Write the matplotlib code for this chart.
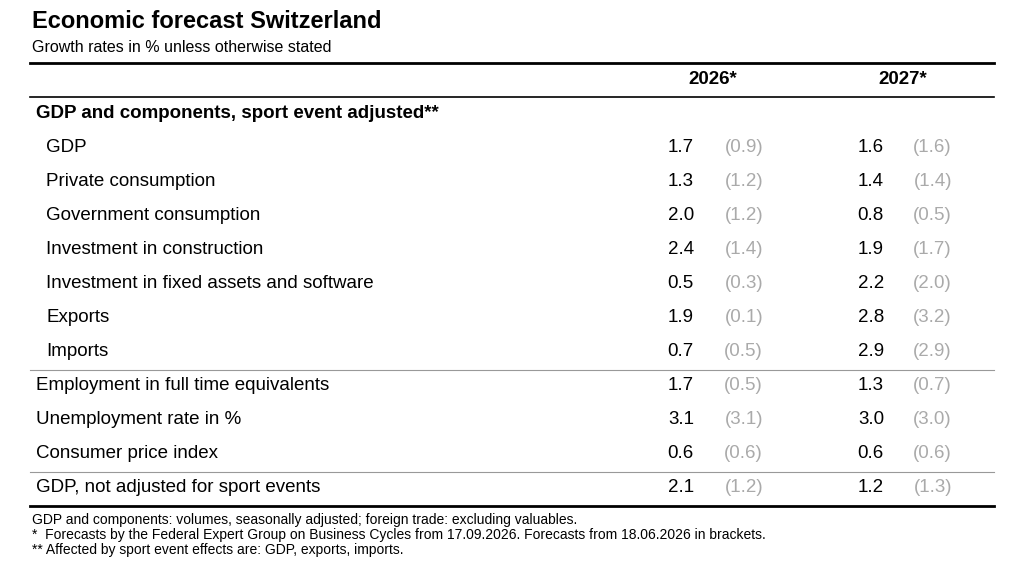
import matplotlib
matplotlib.use("Agg")
import matplotlib.pyplot as plt
from matplotlib.lines import Line2D

plt.rcParams['font.family'] = ['Liberation Sans', 'DejaVu Sans']

title = "Economic forecast Switzerland"
subtitle = "Growth rates in % unless otherwise stated"
years = ["2026*", "2027*"]
section = "GDP and components, sport event adjusted**"
labels = ["GDP", "Private consumption", "Government consumption", "Investment in construction",
          "Investment in fixed assets and software", "Exports", "Imports",
          "Employment in full time equivalents", "Unemployment rate in %", "Consumer price index",
          "GDP, not adjusted for sport events"]
indented = [True]*7 + [False]*4
v2026 = ["1.7", "1.3", "2.0", "2.4", "0.5", "1.9", "0.7", "1.7", "3.1", "0.6", "2.1"]
p2026 = ["(0.9)", "(1.2)", "(1.2)", "(1.4)", "(0.3)", "(0.1)", "(0.5)", "(0.5)", "(3.1)", "(0.6)", "(1.2)"]
v2027 = ["1.6", "1.4", "0.8", "1.9", "2.2", "2.8", "2.9", "1.3", "3.0", "0.6", "1.2"]
p2027 = ["(1.6)", "(1.4)", "(0.5)", "(1.7)", "(2.0)", "(3.2)", "(2.9)", "(0.7)", "(3.0)", "(0.6)", "(1.3)"]
notes = ["GDP and components: volumes, seasonally adjusted; foreign trade: excluding valuables.",
         "*  Forecasts by the Federal Expert Group on Business Cycles from 17.09.2026. Forecasts from 18.06.2026 in brackets.",
         "** Affected by sport event effects are: GDP, exports, imports."]

W, H = 1024, 576
fig = plt.figure(figsize=(W/100, H/100), dpi=100)

def T(x, y, s, **kw):
    kw.setdefault('va', 'center')
    fig.text(x/W, 1-y/H, s, **kw)

def L(x0, x1, y, lw, c='black'):
    fig.add_artist(Line2D([x0/W, x1/W], [1-y/H, 1-y/H], lw=lw, color=c))

T(32, 22, title, fontsize=17, fontweight='bold')
T(32, 47, subtitle, fontsize=11.5)
L(30, 994, 63, 2)
T(737, 80, years[0], fontsize=13.5, fontweight='bold', ha='right')
T(927, 80, years[1], fontsize=13.5, fontweight='bold', ha='right')
L(30, 994, 97, 1.2)
T(36, 114, section, fontsize=13.5, fontweight='bold')
grey = '#aaaaaa'
for i, lab in enumerate(labels):
    y = 148 + 34*i
    T(46 if indented[i] else 36, y, lab, fontsize=13.5)
    T(694, y, v2026[i], fontsize=13.5, ha='right')
    T(763, y, p2026[i], fontsize=13.5, ha='right', color=grey)
    T(884, y, v2027[i], fontsize=13.5, ha='right')
    T(952, y, p2027[i], fontsize=13.5, ha='right', color=grey)
L(30, 994, 370, 0.8, '#999999')
L(30, 994, 472, 0.8, '#999999')
L(30, 994, 506, 2)
for i, n in enumerate(notes):
    T(32, 520 + 15*i, n, fontsize=10)

fig.savefig("out.png", dpi=100)
